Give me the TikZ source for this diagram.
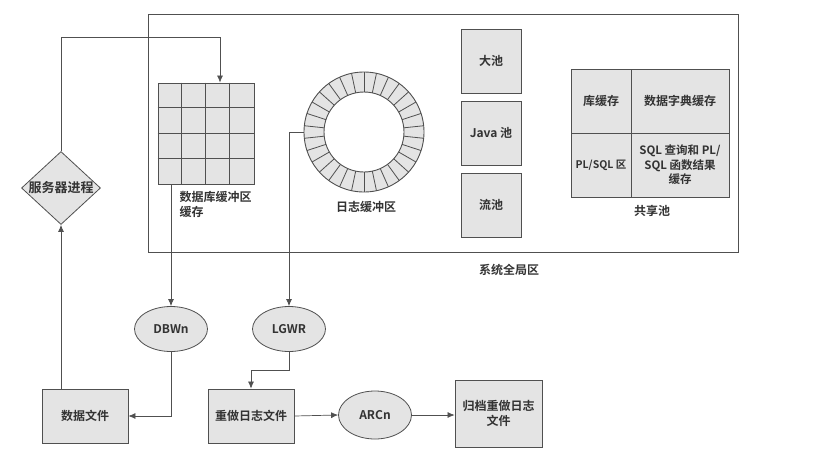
\documentclass[tikz,border=0pt]{standalone}
\usepackage{fontspec}
\setmainfont{Noto Sans CJK SC}[BoldFont={Noto Sans CJK SC Bold}]
\usetikzlibrary{shapes.geometric,arrows.meta,calc}
\definecolor{boxfill}{HTML}{E4E4E4}
\definecolor{linec}{HTML}{505050}
\begin{document}
\begin{tikzpicture}[x=1pt,y=-1pt,
  txt/.style={font=\fontsize{12}{15}\selectfont\bfseries, text=black!80},
  box/.style={draw=linec, fill=boxfill, line width=0.8pt, inner sep=0pt, align=center, txt},
  proc/.style={ellipse, draw=linec, fill=boxfill, line width=0.8pt, minimum width=73pt, minimum height=45pt, inner sep=0pt, txt},
  arr/.style={draw=linec, line width=0.7pt, -{Latex[length=7pt,width=6pt]}},
  plain/.style={draw=linec, line width=0.7pt}]
\useasboundingbox (0,0) rectangle (832,453);
\fill[white] (0,0) rectangle (832,453);

% System global area
\node[draw=linec, line width=0.8pt, minimum width=590pt, minimum height=238pt, inner sep=0pt] (sga) at (443,133) {};
\node[txt] (sgalbl) at (509,270) {系统全局区};

% Database buffer cache grid
\node[draw=linec, fill=boxfill, line width=0.9pt, minimum width=96pt, minimum height=101pt, inner sep=0pt] (grid) at (206,133.5) {};
\foreach \i in {1,2,3} {
  \draw[linec, line width=0.9pt] ($(grid.north west)+(24*\i,0)$) -- ($(grid.south west)+(24*\i,0)$);
  \draw[linec, line width=0.9pt] ($(grid.north west)+(0,25.25*\i)$) -- ($(grid.north east)+(0,25.25*\i)$);
}
\node[txt, align=left, anchor=north west] (gridlbl) at (176,188) {数据库缓冲区\\缓存};

% Redo log buffer ring
\node[circle, minimum size=120pt, inner sep=0pt] (ring) at (364,132) {};
\fill[boxfill, even odd rule] (ring.center) circle[radius=60pt] (ring.center) circle[radius=40pt];
\draw[linec, line width=0.9pt] (ring.center) circle[radius=60pt] (ring.center) circle[radius=40pt];
\foreach \a in {6,18,...,354} {
  \draw[linec, line width=0.8pt] ($(ring.center)+(\a:40pt)$) -- ($(ring.center)+(\a:60pt)$);
}
\node[txt] (ringlbl) at (366,207) {日志缓冲区};

% Pools
\node[box, minimum width=60pt, minimum height=64pt] (large) at (491,61) {大池};
\node[box, minimum width=60pt, minimum height=64pt] (java) at (491,133) {Java 池};
\node[box, minimum width=60pt, minimum height=64pt] (stream) at (491,205) {流池};

% Shared pool
\node[box, minimum width=60pt, minimum height=64pt] (lib) at (601,101) {库缓存};
\node[box, minimum width=98pt, minimum height=64pt] (dict) at (680,101) {数据字典缓存};
\node[box, minimum width=60pt, minimum height=64pt, font=\fontsize{10.5}{14}\selectfont\bfseries] (plsql) at (601,165) {PL/SQL 区};
\node[box, minimum width=98pt, minimum height=64pt, font=\fontsize{11.5}{14.5}\selectfont\bfseries] (result) at (680,165) {SQL 查询和 PL/\\SQL 函数结果\\缓存};
\node[txt] (splbl) at (652,211) {共享池};

% Server process
\node[diamond, draw=linec, fill=boxfill, line width=0.8pt, minimum width=79pt, minimum height=73pt, inner sep=0pt,
      label={[txt, font=\fontsize{13}{15}\selectfont\bfseries]center:服务器进程}] (srv) at (61,188) {};

% Background processes
\node[proc] (dbwn) at (171,329) {DBWn};
\node[proc] (lgwr) at (289,329) {LGWR};
\node[proc, minimum height=48pt] (arcn) at (375,415) {ARCn};

% Files
\node[box, minimum width=86pt, minimum height=54pt] (df) at (85,416) {数据文件};
\node[box, minimum width=86pt, minimum height=54pt] (redo) at (251,416) {重做日志文件};
\node[box, minimum width=87pt, minimum height=67pt] (arch) at (498.5,413.5) {归档重做日志\\文件};

% Connectors
\draw[arr] (srv.north) |- ($(grid.north)+(14,-45)$) -- ($(grid.north)+(14,0)$);
\draw[arr] (srv.south |- df.north) -- (srv.south);
\draw[arr] (grid.south -| dbwn.north) -- (dbwn.north);
\draw[arr] (ring.west) -| (lgwr.north);
\draw[arr] (dbwn.south) |- (df.east);
\draw[arr] (lgwr.south) |- ($(redo.north)+(0,-18)$) -- (redo.north);
\draw[arr] (redo.east) -- (arcn.west);
\draw[arr] (arcn.east) -- (arcn.east -| arch.west);
\end{tikzpicture}
\end{document}
